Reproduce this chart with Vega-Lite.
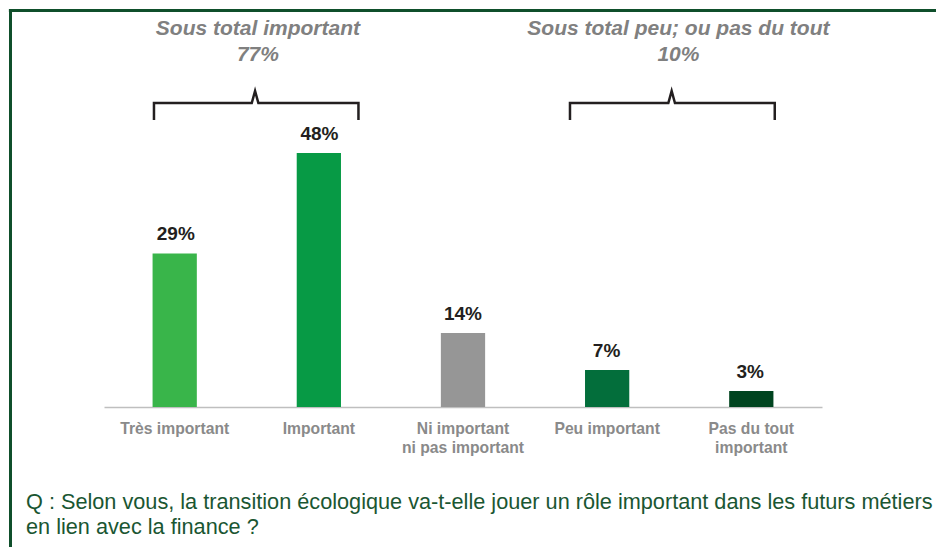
{
  "$schema": "https://vega.github.io/schema/vega-lite/v6.json",
  "width": 718,
  "height": 397,
  "autosize": {"type": "none"},
  "padding": {"left": 104, "top": 10, "right": 114, "bottom": 140},
  "background": "white",
  "config": {"view": {"stroke": null}, "font": "Liberation Sans"},
  "datasets": {
    "bars": [
      {"cat": "Très important", "pct": 0.29},
      {"cat": "Important", "pct": 0.48},
      {"cat": "Ni important ni pas important", "pct": 0.14},
      {"cat": "Peu important", "pct": 0.07},
      {"cat": "Pas du tout important", "pct": 0.03}
    ],
    "brackets": [
      {"b": "important", "i": 1, "x": 0.348, "y": 0.5422},
      {"b": "important", "i": 2, "x": 0.348, "y": 0.5743},
      {"b": "important", "i": 3, "x": 1.029, "y": 0.5743},
      {"b": "important", "i": 4, "x": 1.052, "y": 0.597},
      {"b": "important", "i": 5, "x": 1.075, "y": 0.5743},
      {"b": "important", "i": 6, "x": 1.772, "y": 0.5743},
      {"b": "important", "i": 7, "x": 1.772, "y": 0.5422},
      {"b": "peu", "i": 1, "x": 3.245, "y": 0.5422},
      {"b": "peu", "i": 2, "x": 3.245, "y": 0.5743},
      {"b": "peu", "i": 3, "x": 3.93, "y": 0.5743},
      {"b": "peu", "i": 4, "x": 3.953, "y": 0.597},
      {"b": "peu", "i": 5, "x": 3.976, "y": 0.5743},
      {"b": "peu", "i": 6, "x": 4.671, "y": 0.5743},
      {"b": "peu", "i": 7, "x": 4.671, "y": 0.5422}
    ],
    "subtotals": [
      {"t": "Sous total important", "x": 1.072, "y": 0.7028},
      {"t": "77%", "x": 1.072, "y": 0.6537},
      {"t": "Sous total peu; ou pas du tout", "x": 4.0, "y": 0.7028},
      {"t": "10%", "x": 4.0, "y": 0.6537}
    ],
    "frame": [
      {"x": -0.6623, "x2": 5.822, "y": 0.7491, "y2": 0.7491},
      {"x": -0.6511, "x2": -0.6511, "y": 0.7519, "y2": -0.2664}
    ]
  },
  "title": {
    "text": ["Q : Selon vous, la transition écologique va-t-elle jouer un rôle important dans les futurs métiers", "en lien avec la finance ?"],
    "orient": "bottom",
    "anchor": "start",
    "frame": "group",
    "dx": -78,
    "offset": -58,
    "baseline": "top",
    "font": "Liberation Sans",
    "fontSize": 21.7,
    "fontWeight": "normal",
    "color": "#1a5632",
    "lineHeight": 25
  },
  "resolve": {"scale": {"x": "independent"}},
  "layer": [
    {
      "data": {"name": "bars"},
      "mark": {"type": "bar"},
      "encoding": {
        "x": {
          "field": "cat", "type": "nominal", "sort": null,
          "scale": {"paddingInner": 0.693, "paddingOuter": 0.337},
          "axis": {
            "title": null, "labelAngle": 0, "ticks": false, "tickSize": 0,
            "domainColor": "#bfbfbf", "domainWidth": 1.5,
            "labelFont": "Liberation Sans", "labelFontWeight": "bold",
            "labelFontSize": 15.7, "labelColor": "#8a8a8a",
            "labelPadding": 14, "labelLineHeight": 19, "labelBaseline": "top",
            "labelExpr": "datum.value == 'Ni important ni pas important' ? ['Ni important', 'ni pas important'] : datum.value == 'Pas du tout important' ? ['Pas du tout', 'important'] : datum.value"
          }
        },
        "y": {"field": "pct", "type": "quantitative", "scale": {"domain": [0, 0.75], "nice": false}, "axis": null},
        "color": {
          "field": "cat", "type": "nominal", "legend": null,
          "scale": {
            "domain": ["Très important", "Important", "Ni important ni pas important", "Peu important", "Pas du tout important"],
            "range": ["#39b54a", "#079a45", "#969696", "#036e3b", "#00441f"]
          }
        }
      }
    },
    {
      "data": {"name": "bars"},
      "mark": {"type": "text", "dy": -13, "baseline": "alphabetic", "font": "Liberation Sans", "fontWeight": "bold", "fontSize": 19, "color": "#231f20"},
      "encoding": {
        "x": {"field": "cat", "type": "nominal", "sort": null, "scale": {"paddingInner": 0.693, "paddingOuter": 0.337}, "axis": null},
        "y": {"field": "pct", "type": "quantitative", "scale": {"domain": [0, 0.75], "nice": false}, "axis": null},
        "text": {"field": "pct", "type": "quantitative", "format": ".0%"}
      }
    },
    {
      "data": {"name": "brackets"},
      "mark": {"type": "line", "color": "#231f20", "strokeWidth": 2.5, "strokeCap": "butt", "strokeJoin": "miter"},
      "encoding": {
        "x": {"field": "x", "type": "quantitative", "scale": {"domain": [0, 5], "nice": false, "zero": false}, "axis": null},
        "y": {"field": "y", "type": "quantitative", "scale": {"domain": [0, 0.75], "nice": false}, "axis": null},
        "detail": {"field": "b"},
        "order": {"field": "i"}
      }
    },
    {
      "data": {"name": "subtotals"},
      "mark": {"type": "text", "align": "center", "baseline": "alphabetic", "font": "Liberation Sans", "fontWeight": "bold", "fontStyle": "italic", "fontSize": 21, "color": "#808080"},
      "encoding": {
        "x": {"field": "x", "type": "quantitative", "scale": {"domain": [0, 5], "nice": false, "zero": false}, "axis": null},
        "y": {"field": "y", "type": "quantitative", "scale": {"domain": [0, 0.75], "nice": false}, "axis": null},
        "text": {"field": "t"}
      }
    },
    {
      "data": {"name": "frame"},
      "mark": {"type": "rule", "color": "#0f4f2b", "strokeWidth": 3},
      "encoding": {
        "x": {"field": "x", "type": "quantitative", "scale": {"domain": [0, 5], "nice": false, "zero": false}, "axis": null},
        "x2": {"field": "x2"},
        "y": {"field": "y", "type": "quantitative", "scale": {"domain": [0, 0.75], "nice": false}, "axis": null},
        "y2": {"field": "y2"}
      }
    }
  ]
}
